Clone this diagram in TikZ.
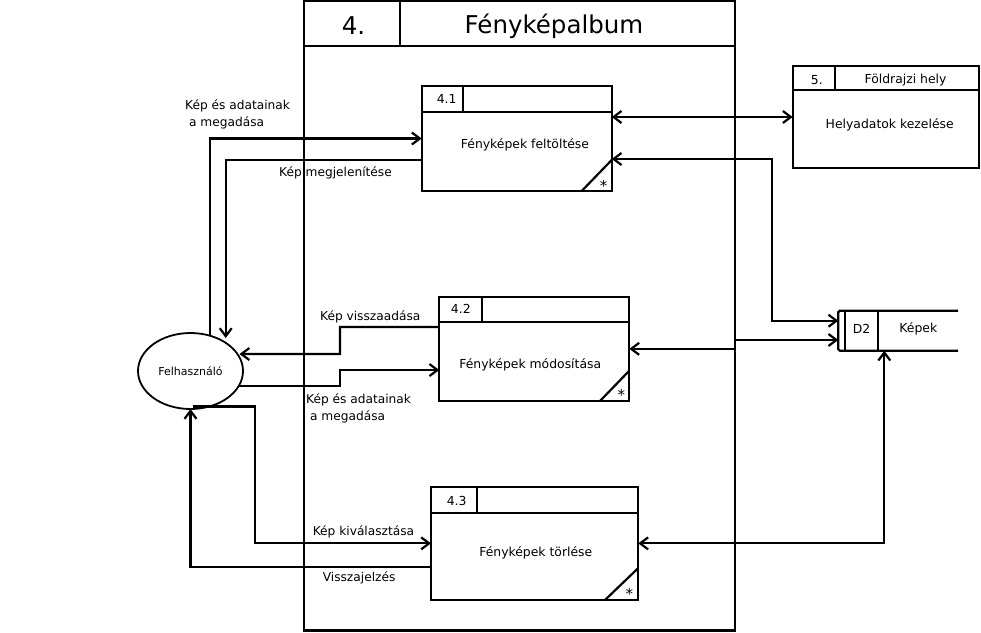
\documentclass[tikz,border=0pt]{standalone}
\usepackage{fontspec}
\setmainfont{DejaVu Sans}
\usetikzlibrary{arrows.meta,calc,shapes.geometric}
\begin{document}
\begin{tikzpicture}[x=1pt,y=-1pt,
  line width=2.2pt,
  >={Straight Barb[length=8pt,width=12pt]},
  box/.style={draw,rectangle,line width=2.2pt,inner sep=0pt,outer sep=0pt},
  lbl/.style={font=\fontsize{12.2}{17}\selectfont,inner sep=0pt,anchor=west,align=left},
  txt/.style={font=\fontsize{12.4}{15}\selectfont,inner sep=0pt},
  bigtxt/.style={font=\fontsize{24.5}{28}\selectfont,inner sep=0pt},
  astx/.style={font=\fontsize{15}{16}\selectfont,inner sep=0pt},
  ent/.style={draw,ellipse,line width=1.8pt,minimum width=105pt,minimum height=76pt,inner sep=0pt,outer sep=0pt,font=\fontsize{11}{13}\selectfont}
]
\useasboundingbox (0,0) rectangle (981,632);

% big process 4
\node[box,minimum width=431pt,minimum height=629.5pt] (p4) at (519.5,315.75) {};
\draw ($(p4.north west)+(0,45)$) -- ($(p4.north east)+(0,45)$);
\draw ($(p4.north west)+(96,0)$) -- ($(p4.north west)+(96,45)$);
\node[bigtxt] (p4id) at (353.5,26) {4.};
\node[bigtxt] (p4t) at (554,26) {Fényképalbum};

% 4.1
\node[box,minimum width=190pt,minimum height=105pt] (p41) at (516.7,138.5) {};
\draw ($(p41.north west)+(0,25.7)$) -- ($(p41.north east)+(0,25.7)$);
\draw ($(p41.north west)+(41.3,0)$) -- ($(p41.north west)+(41.3,25.7)$);
\draw ($(p41.south east)+(-30,0)$) -- ($(p41.south east)+(0,-31)$);
\node[txt] (p41id) at (446.7,99) {4.1};
\node[txt] (p41t) at (525,145) {Fényképek feltöltése};
\node[astx] (p41a) at ($(p41.south east)+(-8,-5.5)$) {*};

% 4.2
\node[box,minimum width=190pt,minimum height=104.3pt] (p42) at (534.3,348.85) {};
\draw ($(p42.north west)+(0,25.6)$) -- ($(p42.north east)+(0,25.6)$);
\draw ($(p42.north west)+(42.4,0)$) -- ($(p42.north west)+(42.4,25.6)$);
\draw ($(p42.south east)+(-29.3,0)$) -- ($(p42.south east)+(0,-30.3)$);
\node[txt] (p42id) at (460.8,308.5) {4.2};
\node[txt] (p42t) at (530.3,365) {Fényképek módosítása};
\node[astx] (p42a) at ($(p42.south east)+(-8,-6)$) {*};

% 4.3
\node[box,minimum width=207.3pt,minimum height=113.3pt] (p43) at (534.65,543.35) {};
\draw ($(p43.north west)+(0,26.6)$) -- ($(p43.north east)+(0,26.6)$);
\draw ($(p43.north west)+(46.3,0)$) -- ($(p43.north west)+(46.3,26.6)$);
\draw ($(p43.south east)+(-33.3,0)$) -- ($(p43.south east)+(0,-32)$);
\node[txt] (p43id) at (456.7,500.7) {4.3};
\node[txt] (p43t) at (535.8,552.7) {Fényképek törlése};
\node[astx] (p43a) at ($(p43.south east)+(-9,-6.5)$) {*};

% 5
\node[box,minimum width=186.3pt,minimum height=102pt] (p5) at (885.85,117) {};
\draw ($(p5.north west)+(0,24)$) -- ($(p5.north east)+(0,24)$);
\draw ($(p5.north west)+(42.3,0)$) -- ($(p5.north west)+(42.3,24)$);
\node[txt] (p5id) at (816.8,80) {5.};
\node[txt] (p5h) at (905.5,80) {Földrajzi hely};
\node[txt] (p5t) at (889.7,125) {Helyadatok kezelése};

% D2 data store
\node[inner sep=0pt,outer sep=0pt,minimum width=119.7pt,minimum height=40pt] (d2) at (898.15,330.7) {};
\draw[rounded corners=1.5pt] (d2.north east) -- (d2.north west) -- (d2.south west) -- (d2.south east);
\draw ($(d2.north west)+(6.7,0)$) -- ($(d2.south west)+(6.7,0)$);
\draw ($(d2.north west)+(40,0)$) -- ($(d2.south west)+(40,0)$);
\node[txt] (d2id) at (861.6,329) {D2};
\node[txt] (d2t) at (918.3,328.5) {Képek};

% user
\node[ent] (user) at (190.5,371) {Felhasználó};

% connectors
\draw[->] ($(user.center)+(19.5,-36)$) |- (p41.west);
\draw[->] ($(p41.west)+(0,21.5)$) -| ($(user.center)+(35.2,-33)$);
\draw[<->] (p41.east |- p5.west) -- (p5.west);
\draw[<->] ($(p41.east)+(0,20.5)$) -- (772,159) -- (772,320.7) -- ($(d2.west)+(0,-10)$);
\draw[<->] ($(d2.west)+(0,9.3)$) -- (735,340) -- (735,348.85) -- (p42.east);
\draw[<->] (p43.east) -| ($(d2.south west)+(46,0)$);
\draw[->] ($(p42.west)+(0,-21.9)$) -- (340,326.95) |- ($(user.center)+(49,-17)$);
\draw[->] ($(user.center)+(48.1,15)$) -- (340,386) |- ($(p42.west)+(0,21.2)$);
\draw[->] ($(user.south)+(2.5,-2.5)$) -| ($(p43.west)+(-176,0)$) -- (p43.west);
\draw[->] ($(p43.west)+(0,23.4)$) -| (user.south);

% labels
\node[lbl] (l1) at (184,114.5) {Kép és adatainak\\\hspace*{4pt}a megadása};
\node[lbl] (l2) at (278,173) {Kép megjelenítése};
\node[lbl] (l3) at (319,317) {Kép visszaadása};
\node[lbl] (l4) at (305,408.5) {Kép és adatainak\\\hspace*{4pt}a megadása};
\node[lbl] (l5) at (311.7,531.7) {Kép kiválasztása};
\node[lbl] (l6) at (321.7,578) {Visszajelzés};
\end{tikzpicture}
\end{document}
